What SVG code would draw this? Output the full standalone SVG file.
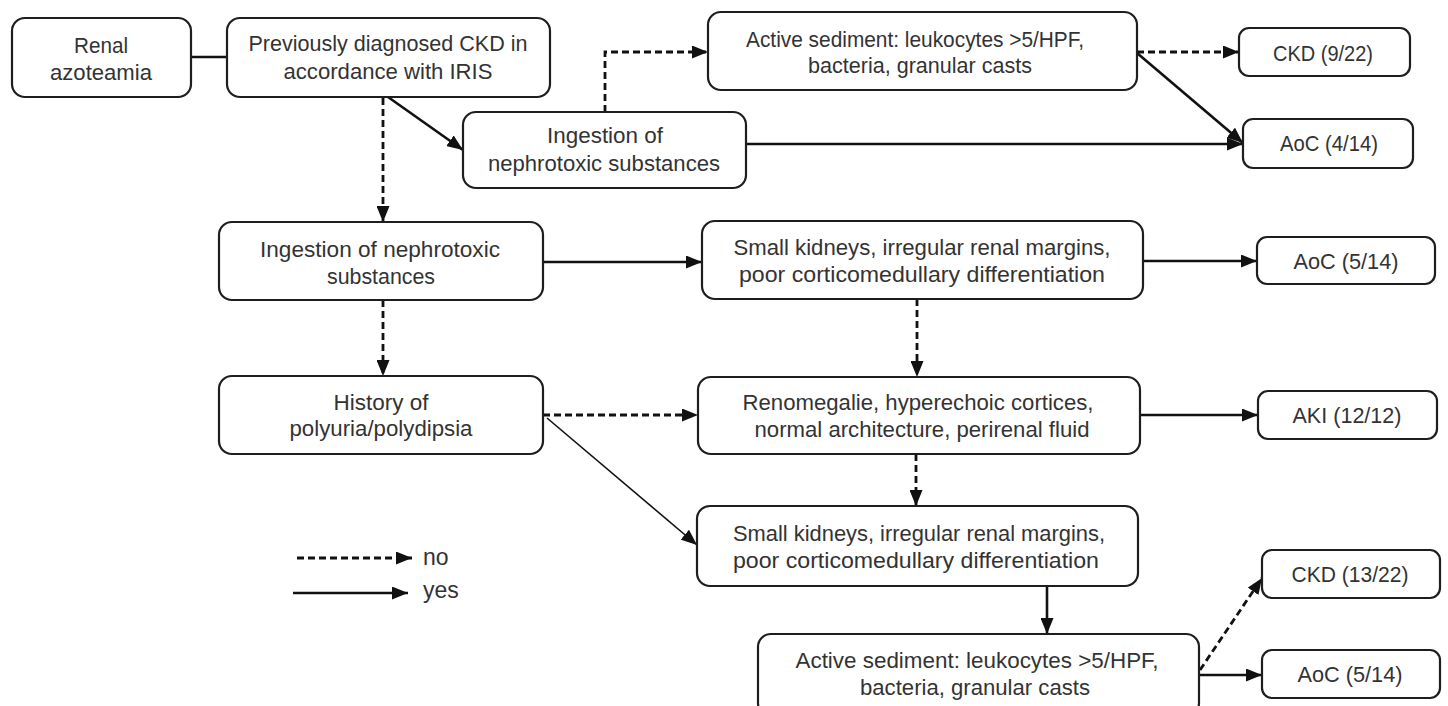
<svg xmlns="http://www.w3.org/2000/svg" width="1448" height="706" viewBox="0 0 1448 706">
<style>
.box{fill:#fff;stroke:#1e1e1e;stroke-width:2.2}
.t{font-family:"Liberation Sans",Arial,sans-serif;font-size:22px;fill:#333;text-anchor:middle}
.tl{font-family:"Liberation Sans",Arial,sans-serif;font-size:23px;fill:#333;text-anchor:start}
.s{fill:none;stroke:#111;stroke-width:2.6}
.thin{fill:none;stroke:#111;stroke-width:1.6}
.d{fill:none;stroke:#111;stroke-width:2.8;stroke-dasharray:7 4}
</style>
<defs>
<marker id="arr" viewBox="0 0 16 13" refX="16" refY="6.5" markerWidth="16" markerHeight="13" markerUnits="userSpaceOnUse" orient="auto">
<path d="M0,0 L16,6.5 L0,13 z" fill="#111"/>
</marker>
</defs>
<rect width="1448" height="706" fill="#fff"/>

<g id="connectors">
<line class="s" x1="191" y1="57" x2="227" y2="57"/>
<line class="s" x1="388" y1="97" x2="463" y2="150" marker-end="url(#arr)"/>
<line class="d" x1="383" y1="98" x2="383" y2="222" marker-end="url(#arr)"/>
<path class="d" d="M605,112 V52 H708" marker-end="url(#arr)"/>
<line class="d" x1="1137" y1="52" x2="1239" y2="52" marker-end="url(#arr)"/>
<line class="s" x1="1137" y1="53" x2="1243" y2="143" marker-end="url(#arr)"/>
<line class="s" x1="746" y1="144" x2="1243" y2="144" marker-end="url(#arr)"/>
<line class="s" x1="543" y1="262" x2="702" y2="262" marker-end="url(#arr)"/>
<line class="s" x1="1143" y1="261" x2="1257" y2="261" marker-end="url(#arr)"/>
<line class="d" x1="917" y1="299" x2="917" y2="377" marker-end="url(#arr)"/>
<line class="d" x1="383" y1="300" x2="383" y2="376" marker-end="url(#arr)"/>
<line class="d" x1="543" y1="415" x2="698" y2="415" marker-end="url(#arr)"/>
<line class="thin" x1="547" y1="418" x2="697" y2="545" marker-end="url(#arr)"/>
<line class="s" x1="1140" y1="415" x2="1258" y2="415" marker-end="url(#arr)"/>
<line class="d" x1="916" y1="454" x2="916" y2="506" marker-end="url(#arr)"/>
<line class="s" x1="1047" y1="586" x2="1047" y2="634" marker-end="url(#arr)"/>
<line class="d" x1="1200" y1="670" x2="1262" y2="578" marker-end="url(#arr)"/>
<line class="s" x1="1199" y1="675" x2="1262" y2="675" marker-end="url(#arr)"/>
</g>

<g id="renal">
<rect class="box" x="12" y="18" width="179" height="79" rx="13"/>
<text class="t" x="101" y="53" textLength="54" lengthAdjust="spacingAndGlyphs">Renal</text>
<text class="t" x="101" y="80" textLength="102" lengthAdjust="spacingAndGlyphs">azoteamia</text>
</g>
<g id="previous-ckd">
<rect class="box" x="227" y="18" width="323" height="79" rx="13"/>
<text class="t" x="388" y="51" textLength="279" lengthAdjust="spacingAndGlyphs">Previously  diagnosed CKD in</text>
<text class="t" x="388" y="79" textLength="209" lengthAdjust="spacingAndGlyphs">accordance with IRIS</text>
</g>
<g id="active-top">
<rect class="box" x="708" y="12" width="429" height="78" rx="13"/>
<text class="t" x="915" y="47" textLength="338" lengthAdjust="spacingAndGlyphs">Active sediment: leukocytes &gt;5/HPF,</text>
<text class="t" x="920" y="73" textLength="224" lengthAdjust="spacingAndGlyphs">bacteria, granular casts</text>
</g>
<g id="ckd-9-22">
<rect class="box" x="1239" y="28" width="171" height="48" rx="10"/>
<text class="t" x="1323" y="61" textLength="100" lengthAdjust="spacingAndGlyphs">CKD (9/22)</text>
</g>
<g id="ingestion-top">
<rect class="box" x="463" y="112" width="283" height="76" rx="13"/>
<text class="t" x="605" y="143" textLength="116" lengthAdjust="spacingAndGlyphs">Ingestion of</text>
<text class="t" x="604" y="171" textLength="232" lengthAdjust="spacingAndGlyphs">nephrotoxic substances</text>
</g>
<g id="aoc-4-14">
<rect class="box" x="1243" y="119" width="170" height="49" rx="10"/>
<text class="t" x="1329" y="151" textLength="98" lengthAdjust="spacingAndGlyphs">AoC (4/14)</text>
</g>
<g id="ingestion-left">
<rect class="box" x="219" y="222" width="324" height="78" rx="13"/>
<text class="t" x="380" y="257" textLength="240" lengthAdjust="spacingAndGlyphs">Ingestion of nephrotoxic</text>
<text class="t" x="381" y="284" textLength="108" lengthAdjust="spacingAndGlyphs">substances</text>
</g>
<g id="small-kidneys-1">
<rect class="box" x="702" y="221" width="441" height="78" rx="13"/>
<text class="t" x="922" y="255" textLength="377" lengthAdjust="spacingAndGlyphs">Small kidneys,  irregular renal margins,</text>
<text class="t" x="922" y="282" textLength="366" lengthAdjust="spacingAndGlyphs">poor corticomedullary  differentiation</text>
</g>
<g id="aoc-5-14-top">
<rect class="box" x="1257" y="237" width="178" height="47" rx="10"/>
<text class="t" x="1346" y="269" textLength="105" lengthAdjust="spacingAndGlyphs">AoC (5/14)</text>
</g>
<g id="history">
<rect class="box" x="219" y="376" width="324" height="78" rx="13"/>
<text class="t" x="381" y="410" textLength="95" lengthAdjust="spacingAndGlyphs">History of</text>
<text class="t" x="381" y="436" textLength="183" lengthAdjust="spacingAndGlyphs">polyuria/polydipsia</text>
</g>
<g id="renomegalie">
<rect class="box" x="698" y="377" width="442" height="77" rx="13"/>
<text class="t" x="918" y="410" textLength="351" lengthAdjust="spacingAndGlyphs">Renomegalie, hyperechoic  cortices,</text>
<text class="t" x="922" y="437" textLength="335" lengthAdjust="spacingAndGlyphs">normal architecture, perirenal fluid</text>
</g>
<g id="aki">
<rect class="box" x="1258" y="391" width="179" height="48" rx="10"/>
<text class="t" x="1347" y="423" textLength="109" lengthAdjust="spacingAndGlyphs">AKI (12/12)</text>
</g>
<g id="small-kidneys-2">
<rect class="box" x="697" y="506" width="441" height="80" rx="13"/>
<text class="t" x="919" y="541" textLength="372" lengthAdjust="spacingAndGlyphs">Small kidneys,  irregular renal margins,</text>
<text class="t" x="916" y="568" textLength="366" lengthAdjust="spacingAndGlyphs">poor corticomedullary  differentiation</text>
</g>
<g id="ckd-13-22">
<rect class="box" x="1262" y="550" width="178" height="48" rx="10"/>
<text class="t" x="1350" y="582" textLength="117" lengthAdjust="spacingAndGlyphs">CKD (13/22)</text>
</g>
<g id="active-bottom">
<rect class="box" x="758" y="634" width="441" height="82" rx="13"/>
<text class="t" x="977" y="668" textLength="363" lengthAdjust="spacingAndGlyphs">Active sediment: leukocytes &gt;5/HPF,</text>
<text class="t" x="975" y="695" textLength="230" lengthAdjust="spacingAndGlyphs">bacteria, granular casts</text>
</g>
<g id="aoc-5-14-bottom">
<rect class="box" x="1262" y="650" width="178" height="48" rx="10"/>
<text class="t" x="1350" y="682" textLength="105" lengthAdjust="spacingAndGlyphs">AoC (5/14)</text>
</g>

<g id="legend">
<line class="d" x1="297" y1="558" x2="412" y2="558" marker-end="url(#arr)"/>
<line class="s" x1="293" y1="593" x2="408" y2="593" marker-end="url(#arr)"/>
<text class="tl" x="423" y="565">no</text>
<text class="tl" x="423" y="598">yes</text>
</g>
</svg>
